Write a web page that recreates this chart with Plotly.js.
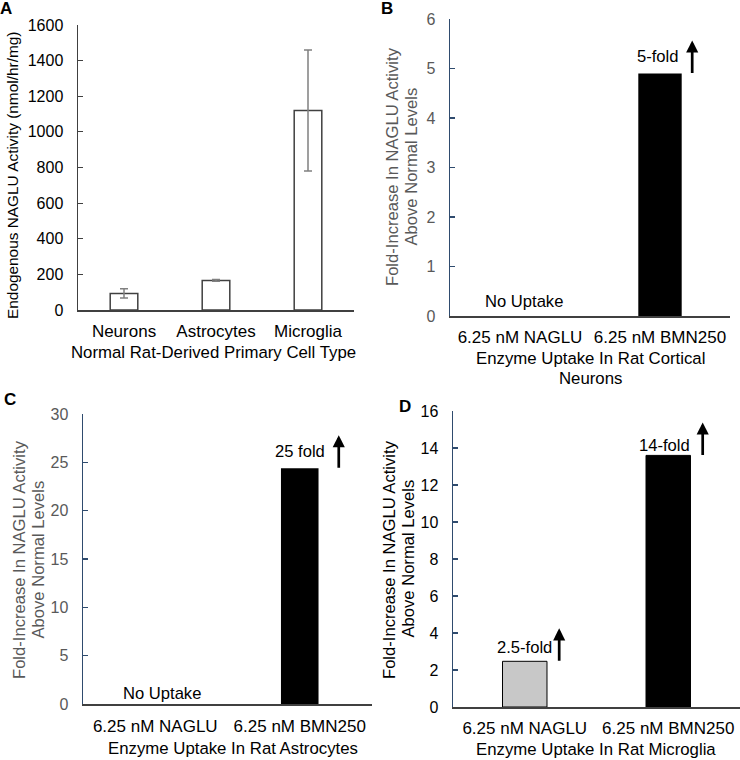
<!DOCTYPE html>
<html>
<head>
<meta charset="utf-8">
<script src="https://cdn.plot.ly/plotly-3.0.1.min.js"></script>
<style>html,body{margin:0;padding:0;background:#fff;}#chart{width:740px;height:760px;}</style>
</head>
<body>
<div id="chart"></div>
<script>
// ---- data ----
const cellTypes = ['Neurons', 'Astrocytes', 'Microglia'];
const endogenousActivity = [93, 166, 1120];
const endogenousError = [26, 5, 340];

const enzymes = ['6.25 nM NAGLU', '6.25 nM BMN250'];
const foldNeurons = [0, 4.9];
const foldAstrocytes = [0, 24.4];
const foldMicroglia = [2.47, 13.6];

const labelsNeurons = ['No Uptake', '5-fold'];
const labelsAstrocytes = ['No Uptake', '25 fold'];
const labelsMicroglia = ['2.5-fold', '14-fold'];
const arrowsNeurons = [false, true];
const arrowsAstrocytes = [false, true];
const arrowsMicroglia = [true, true];

const titleA_x = 'Normal Rat-Derived Primary Cell Type';
const titleA_y = 'Endogenous NAGLU Activity (nmol/hr/mg)';
const titleB_x = ['Enzyme Uptake In Rat Cortical', 'Neurons'];
const titleC_x = ['Enzyme Uptake In Rat Astrocytes'];
const titleD_x = ['Enzyme Uptake In Rat Microglia'];
const titleFold_y = ['Fold-Increase In NAGLU Activity', 'Above Normal Levels'];

const yRangeA = [0, 1600];
const yRangeB = [0, 6];
const yRangeC = [0, 30];
const yRangeD = [0, 16];

// ---- style ----
const FONT = 'Liberation Sans, Arial, Helvetica, sans-serif';
const W = 740, H = 760;
const navy = '#2f4b6e';
const dark = '#404040';
const grayTxt = '#595959';
const TXT = 17;
// per-label pixel nudges [dx, dy] (style only)
const nudgeB = [[4, 3], [-2, 5]];
const nudgeC = [[7, -1], [0, 5]];
const nudgeD = [[0, 2], [-4, -1.5]];

function px(x0, x1) { return [x0 / W, x1 / W]; }
function py(yBottomPx, yTopPx) { return [(H - yBottomPx) / H, (H - yTopPx) / H]; }

const traces = [
  {type: 'bar', x: cellTypes, y: endogenousActivity, xaxis: 'x', yaxis: 'y', width: 0.3,
   marker: {color: '#ffffff', line: {color: dark, width: 1.5}},
   error_y: {type: 'data', array: endogenousError, visible: true, color: '#808080', thickness: 1.5, width: 4},
   hoverinfo: 'none'},
  {type: 'bar', x: enzymes, y: foldNeurons, xaxis: 'x2', yaxis: 'y2', width: 0.31,
   marker: {color: '#000000', line: {width: 0}}, hoverinfo: 'none'},
  {type: 'bar', x: enzymes, y: foldAstrocytes, xaxis: 'x3', yaxis: 'y3', width: 0.26,
   marker: {color: '#000000', line: {width: 0}}, hoverinfo: 'none'},
  {type: 'bar', x: enzymes, y: foldMicroglia, xaxis: 'x4', yaxis: 'y4', width: 0.31,
   marker: {color: ['#c8c8c8', '#000000'], line: {color: '#000000', width: 1}}, hoverinfo: 'none'}
];

function xAxis(domain, anchor, standoff) {
  return {
    domain: domain, anchor: anchor, type: 'category',
    showline: true, linecolor: dark, linewidth: 1.5, ticks: '', showgrid: false, zeroline: false,
    tickfont: {family: FONT, size: TXT, color: '#000'},
    ticklabelstandoff: standoff, automargin: false, fixedrange: true
  };
}
function yAxis(domain, anchor, range, dtick, lineColor, tickColor) {
  return {
    domain: domain, anchor: anchor, range: range, dtick: dtick,
    showline: true, linecolor: lineColor, linewidth: 1.5,
    ticks: 'inside', ticklen: 5, tickcolor: lineColor, tickwidth: 1.2,
    showgrid: false, zeroline: false, fixedrange: true,
    tickfont: {family: FONT, size: 16, color: tickColor},
    ticklabelstandoff: 10, automargin: false
  };
}

const layout = {
  width: W, height: H,
  margin: {l: 0, r: 0, t: 0, b: 0},
  paper_bgcolor: '#fff', plot_bgcolor: 'rgba(0,0,0,0)',
  showlegend: false,
  font: {family: FONT, color: '#000'},
  xaxis: xAxis(px(78, 354), 'y', 5),
  yaxis: yAxis(py(310, 25), 'x', yRangeA, 200, dark, '#000'),
  xaxis2: xAxis(px(450, 730), 'y2', 5),
  yaxis2: yAxis(py(316, 19), 'x2', yRangeB, 1, navy, grayTxt),
  xaxis3: xAxis(px(83, 372), 'y3', 6),
  yaxis3: yAxis(py(704, 414), 'x3', yRangeC, 5, navy, grayTxt),
  xaxis4: xAxis(px(453, 740), 'y4', 5),
  yaxis4: yAxis(py(707, 411), 'x4', yRangeD, 2, navy, '#000'),
  annotations: []
};

function paperText(text, xPx, yPx, size, color, angle, bold) {
  layout.annotations.push({text: bold ? '<b>' + text + '</b>' : text, xref: 'paper', yref: 'paper',
    x: xPx / W, y: (H - yPx) / H, xanchor: 'center', yanchor: 'middle', showarrow: false,
    textangle: angle || 0, font: {family: FONT, size: size, color: color}});
}

// panel letters
paperText('A', 6, 8, 17, '#000', 0, true);
paperText('B', 387, 8, 17, '#000', 0, true);
paperText('C', 10, 399, 17, '#000', 0, true);
paperText('D', 405, 406, 17, '#000', 0, true);

// axis titles
paperText(titleA_x, 213, 353, 16.8, '#000');
paperText(titleA_y, 12, 176, 15.4, '#000', -90);
titleB_x.forEach(function (t, i) { paperText(t, 590, 358 + 20 * i, 16.8, '#000'); });
titleC_x.forEach(function (t, i) { paperText(t, 233, 748 + 20 * i, 16.8, '#000'); });
titleD_x.forEach(function (t, i) { paperText(t, 596, 749 + 20 * i, 16.8, '#000'); });
[[393, 167, grayTxt], [19, 560, grayTxt], [389, 559, '#000']].forEach(function (p) {
  titleFold_y.forEach(function (t, i) { paperText(t, p[0] + 18.5 * i, p[1], 16.6, p[2], -90); });
});

// fold labels + arrows
function addLabels(xr, yr, values, labels, arrows, arrowOffset, nudge) {
  values.forEach(function (v, i) {
    layout.annotations.push({text: labels[i], xref: xr, yref: yr, x: i, y: v,
      xanchor: 'center', yanchor: 'bottom', xshift: nudge[i][0], yshift: nudge[i][1], showarrow: false,
      font: {family: FONT, size: 16.6, color: '#000'}});
    if (arrows[i]) {
      layout.annotations.push({text: '', xref: xr, yref: yr, x: i + arrowOffset, y: v,
        showarrow: true, ax: 0, ay: 34, yshift: 33, arrowhead: 2, arrowsize: 0.9, arrowwidth: 2.7,
        arrowcolor: '#000'});
    }
  });
}
addLabels('x2', 'y2', foldNeurons, labelsNeurons, arrowsNeurons, 0.23, nudgeB);
addLabels('x3', 'y3', foldAstrocytes, labelsAstrocytes, arrowsAstrocytes, 0.27, nudgeC);
addLabels('x4', 'y4', foldMicroglia, labelsMicroglia, arrowsMicroglia, 0.24, nudgeD);

Plotly.newPlot('chart', traces, layout, {staticPlot: true, displayModeBar: false});
</script>
</body>
</html>
